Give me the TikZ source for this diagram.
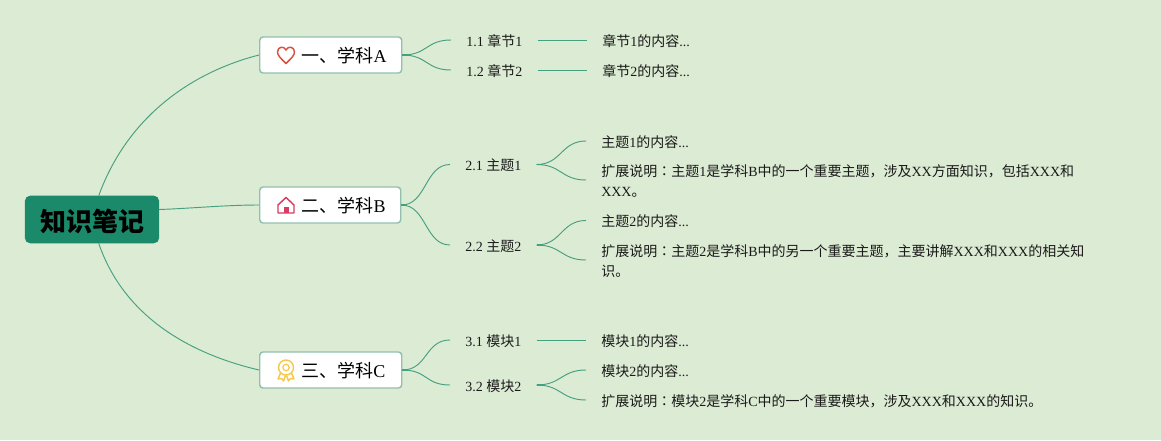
\documentclass[tikz,border=0pt]{standalone}
\usepackage{fontspec}
\usetikzlibrary{calc}
\setmainfont{Liberation Serif}
\newfontfamily\cjk{Noto Sans CJK SC}
\newfontfamily\cjkjp{Noto Sans CJK JP}
\newcommand{\Cn}[1]{{\cjk #1}}
\newcommand{\Cc}{{\cjkjp ：}}
\newcommand{\Low}[2]{\raisebox{-#1}[\height][\depth]{#2}}
\definecolor{bgc}{HTML}{DCEBD3}
\definecolor{rootc}{HTML}{1B8A6B}
\definecolor{linec}{HTML}{45A080}
\definecolor{borderc}{HTML}{93BFAE}
\definecolor{txt}{HTML}{1A1A1A}
\definecolor{heartc}{HTML}{D9503F}
\definecolor{housec}{HTML}{DB3A63}
\definecolor{badgec}{HTML}{F6C84C}
\tikzset{
  rootnode/.style={draw=rootc,fill=rootc,rounded corners=3.75pt,line width=.75pt,minimum width=100pt,minimum height=35pt,inner sep=0pt,font=\fontsize{19.5}{22}\selectfont\bfseries,text=black},
  topic/.style={draw=borderc,fill=white,rounded corners=2.5pt,line width=1.1pt,minimum height=27pt,inner sep=0pt,anchor=west,font=\fontsize{13.5}{16}\selectfont,text=black},
  sub/.style={anchor=west,inner xsep=11.25pt,inner ysep=0pt,minimum height=12pt,font=\fontsize{10.5}{12}\selectfont,text=txt},
  leaf/.style={anchor=west,inner xsep=11.25pt,inner ysep=0pt,align=left,font=\fontsize{10.5}{15}\selectfont,text=txt},
  conn/.style={draw=linec,line width=.7pt},
  stem/.style={draw=linec,line width=1.1pt},
  icon/.style={line width=1.1pt,line join=round}
}
\begin{document}
\begin{tikzpicture}[x=.75pt,y=-.75pt]
\fill[bgc] (0,0) rectangle (1161,440);
\useasboundingbox (0,0) rectangle (1161,440);
% main nodes
\node[rootnode] (root) at (92,219.5) {\hspace*{1.5pt}\Low{1.8pt}{\Cn{知识笔记}}};
\node[topic,minimum width=106.5pt] (A) at (259,55) {\hspace*{20pt}\Low{.75pt}{\Cn{一、学科}A}};
\node[topic,minimum width=105.75pt] (B) at (259,205) {\hspace*{20pt}\Low{.75pt}{\Cn{二、学科}B}};
\node[topic,minimum width=106.5pt] (C) at (259,370) {\hspace*{19pt}\Low{.75pt}{\Cn{三、学科}C}};
% sub nodes (text sits 1px below the connector level)
\node[sub] (a1) at (451,41) {1.1 \Cn{章节}1};
\node[sub] (a2) at (451,71) {1.2 \Cn{章节}2};
\node[sub] (b1) at (450,165.5) {2.1 \Cn{主题}1};
\node[sub] (b2) at (450,246) {2.2 \Cn{主题}2};
\node[sub] (c1) at (450,341) {3.1 \Cn{模块}1};
\node[sub] (c2) at (450,386) {3.2 \Cn{模块}2};
% leaves
\node[leaf] (a1x) at (587,41) {\Cn{章节}1\Cn{的内容}...};
\node[leaf] (a2x) at (587,71) {\Cn{章节}2\Cn{的内容}...};
\node[leaf] (b1x) at (586,142) {\Cn{主题}1\Cn{的内容}...};
\node[leaf] (b1y) at (586,181) {\Cn{扩展说明}\Cc\Cn{主题}1\Cn{是学科}B\Cn{中的一个重要主题，涉及}XX\Cn{方面知识，包括}XXX\Cn{和}\\XXX\Cn{。}};
\node[leaf] (b2x) at (586,221.5) {\Cn{主题}2\Cn{的内容}...};
\node[leaf] (b2y) at (586,261) {\Cn{扩展说明}\Cc\Cn{主题}2\Cn{是学科}B\Cn{中的另一个重要主题，主要讲解}XXX\Cn{和}XXX\Cn{的相关知}\\\Cn{识。}};
\node[leaf] (c1x) at (586,341) {\Cn{模块}1\Cn{的内容}...};
\node[leaf] (c2x) at (586,371) {\Cn{模块}2\Cn{的内容}...};
\node[leaf] (c2y) at (586,401) {\Cn{扩展说明}\Cc\Cn{模块}2\Cn{是学科}C\Cn{中的一个重要模块，涉及}XXX\Cn{和}XXX\Cn{的知识。}};
% root connectors
\draw[conn] ($(root.north west)!.55!(root.north east)$) .. controls (130,110) and (200,70) .. (A.west);
\draw[conn] ([yshift=7.5pt]root.east) .. controls (190,208.5) and (225,205) .. (B.west);
\draw[conn] ($(root.south west)!.55!(root.south east)$) .. controls (125,320) and (195,355) .. (C.west);
% topic to sub
\foreach \p/\q in {A/a1,A/a2,B/b1,B/b2,C/c1,C/c2}{
  \draw[conn] (\p.east) .. controls +(25,0) and ([xshift=-18.75pt,yshift=.75pt]\q.west) .. ([yshift=.75pt]\q.west);
}
\foreach \p in {A,B,C}{ \draw[stem] (\p.east) -- +(6,0); }
% sub to leaf
\foreach \p/\q in {a1/a1x,a2/a2x,c1/c1x}{ \draw[conn] ([yshift=.75pt]\p.east) -- ([yshift=.75pt]\q.west); }
\foreach \p/\q in {b1/b1x,b1/b1y,b2/b2x,b2/b2y,c2/c2x,c2/c2y}{
  \draw[conn] ([yshift=.75pt]\p.east) .. controls +(25,0) and ([xshift=-18.75pt,yshift=.75pt]\q.west) .. ([yshift=.75pt]\q.west);
}
\foreach \p in {b1,b2,c2}{ \draw[stem] ([yshift=.75pt]\p.east) -- +(6,0); }
% icons
\draw[icon,draw=heartc] (286,63.5) .. controls (281,58.5) and (277.5,55.5) .. (277.5,52) .. controls (277.5,46.5) and (284,45.5) .. (286,50) .. controls (288,45.5) and (294.5,46.5) .. (294.5,52) .. controls (294.5,55.5) and (291,58.5) .. (286,63.5) -- cycle;
\draw[icon,draw=housec] (278,213) -- (278,205) -- (286,197.5) -- (294,205) -- (294,213) -- cycle;
\fill[housec] (283.5,207) rectangle (288.5,213);
\draw[icon,draw=badgec] (286,367.5) circle[radius=7.5];
\draw[line width=.9pt,draw=badgec] (286,367.5) circle[radius=3.2];
\draw[icon,draw=badgec] (280.5,373) -- (278,379) -- (281.5,378.5) -- (283.5,381) -- (285.5,375.5);
\draw[icon,draw=badgec] (291.5,373) -- (294,379) -- (290.5,378.5) -- (288.5,381) -- (286.5,375.5);
\end{tikzpicture}
\end{document}
